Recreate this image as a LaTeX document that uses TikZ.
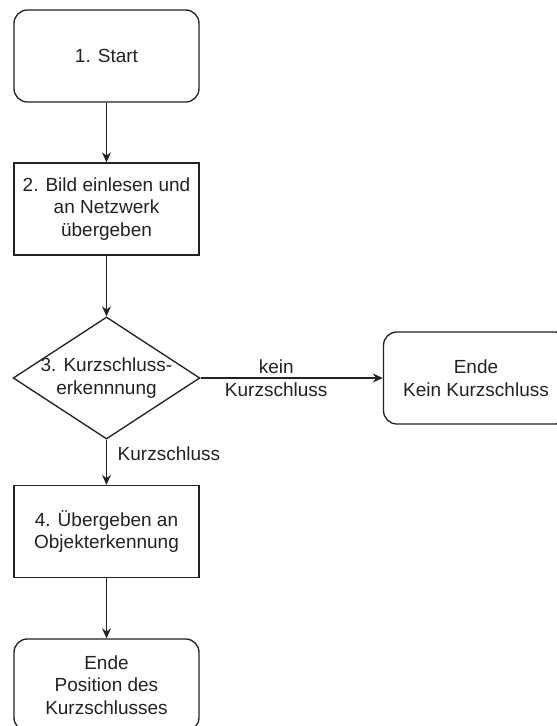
\documentclass[tikz,border=0pt]{standalone}
\usepackage{fontspec}
\setmainfont{Liberation Sans}
\usepackage{tikz}
\usetikzlibrary{shapes.geometric,arrows.meta}
\definecolor{strich}{RGB}{34,34,34}

\begin{document}
\begin{tikzpicture}[x=0.6pt, y=-0.6pt,
    every node/.style={font=\fontsize{11.4}{13.6}\selectfont, text=strich, align=center},
    terminal/.style={draw=strich, line width=0.8pt, rounded corners=8pt, minimum width=111pt, minimum height=55.2pt},
    process/.style={draw=strich, line width=0.8pt, minimum width=111pt, minimum height=55.2pt},
    decision/.style={draw=strich, line width=0.8pt, diamond, aspect=1.53, inner xsep=-2pt, inner ysep=0pt, minimum width=110.4pt, minimum height=72pt},
    flow/.style={draw=strich, line width=0.8pt, -{Stealth[length=6pt,width=5.4pt]}}]
    \clip (0,0) rectangle (557,726);
    \node[terminal] (start) at (106.5,56) {1. Start};
    \node[process] (einlesen) at (106.5,209) {2. Bild einlesen und\\an Netzwerk\\übergeben};
    \node[decision] (check) at (106.5,378) {3. Kurzschluss-\\erkennnung};
    \node[terminal] (endeKein) at (476,378) {Ende\\Kein Kurzschluss};
    \node[process] (uebergabe) at (106.5,531.5) {4. Übergeben an\\Objekterkennung};
    \node[terminal] (endePos) at (106.5,685) {Ende\\Position des\\Kurzschlusses};
	\draw[flow] (start) -- (einlesen);
	\draw[flow] (einlesen) -- (check);
	\draw[flow] (check) -- node[pos=0.415] {kein\\Kurzschluss} (endeKein);
	\draw[flow] (check) -- node[pos=0.32, right, xshift=3pt] {Kurzschluss} (uebergabe);
	\draw[flow] (uebergabe) -- (endePos);
\end{tikzpicture}
\end{document}
